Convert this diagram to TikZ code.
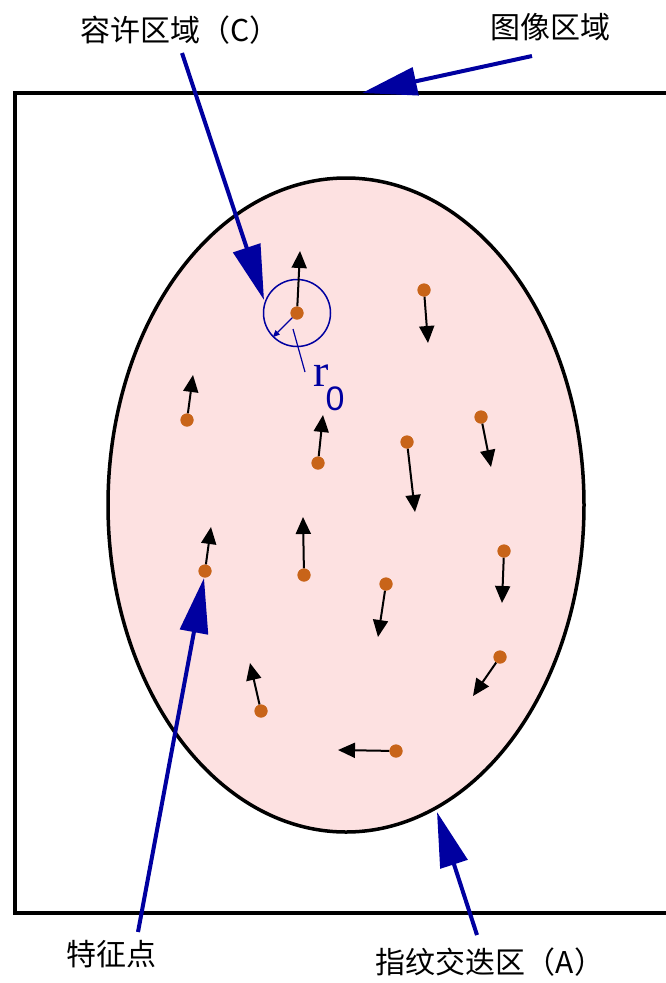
\documentclass[tikz,border=0pt]{standalone}
\usepackage{fontspec}
\setmainfont{Liberation Serif}
\newfontfamily\cjk{Noto Sans CJK SC}
\newfontfamily\arialish{Liberation Sans}
\usetikzlibrary{arrows.meta,shapes.geometric}
\definecolor{navyb}{RGB}{0,0,160}
\definecolor{pinkf}{RGB}{253,225,225}
\definecolor{dotc}{RGB}{200,100,25}
\tikzset{
  lbl/.style={font=\cjk\fontsize{30}{30}\selectfont, inner sep=0pt},
  fp/.style={circle, fill=dotc, minimum size=13pt, inner sep=0pt},
  vec/.style={line width=2pt, -{Triangle[length=17pt,width=15pt]}},
  callout/.style={navyb, line width=4pt, -{Triangle[length=55pt,width=28pt]}},
}
\begin{document}
\begin{tikzpicture}[x=1pt,y=-1pt]
\path[use as bounding box] (0,0) rectangle (666,983);
\clip (0,0) rectangle (666,983);
\fill[white] (0,0) rectangle (666,983);
% image area
\node[draw, line width=3.5pt, minimum width=665pt, minimum height=820pt, inner sep=0pt] (img) at (347.5,503) {};
% overlap area
\node[ellipse, draw, fill=pinkf, line width=3.5pt, minimum width=476pt, minimum height=654pt, inner sep=0pt] (A) at (346,505) {};
% tolerance circle
\node[circle, draw=navyb, line width=1.5pt, minimum size=67pt, inner sep=0pt] (C) at (297,313) {};
% feature points
\node[fp] (p1) at (297,313) {};
\node[fp] (p2) at (424,290) {};
\node[fp] (p3) at (187,420) {};
\node[fp] (p4) at (318,463) {};
\node[fp] (p5) at (407,442) {};
\node[fp] (p6) at (481,417) {};
\node[fp] (p7) at (205,571) {};
\node[fp] (p8) at (304,575) {};
\node[fp] (p9) at (386,584) {};
\node[fp] (p10) at (504,551) {};
\node[fp] (p11) at (500,657) {};
\node[fp] (p12) at (261,711) {};
\node[fp] (p13) at (396,751) {};
% direction tips
\coordinate (t1) at (300,251);
\coordinate (t2) at (428,343);
\coordinate (t3) at (193,375);
\coordinate (t4) at (323,415);
\coordinate (t5) at (415,512);
\coordinate (t6) at (491,467);
\coordinate (t7) at (211,527);
\coordinate (t8) at (303,517);
\coordinate (t9) at (378,637);
\coordinate (t10) at (502,603);
\coordinate (t11) at (473,696);
\coordinate (t12) at (250,663);
\coordinate (t13) at (338,750);
\foreach \i in {1,...,13}{\draw[vec] (p\i) -- (t\i);}
\foreach \i in {1,...,13}{\node[fp] at (p\i) {};}
% radius r0
\draw[navyb, line width=1.2pt, -{Triangle[length=7pt,width=6pt]}] (p1) -- (C.225);
\coordinate (l1) at (293,329);
\coordinate (l2) at (305,372);
\draw[navyb, line width=1.2pt] (l1) -- (l2);
\node[font=\fontsize{46}{46}\selectfont, text=navyb, inner sep=0pt] (r) at (321,376) {r};
\node[font=\arialish\fontsize{34}{34}\selectfont, text=navyb, inner sep=0pt] (rsub) at (335,399) {0};
% labels
\node[lbl] (lc) at (180,30) {容许区域（C）};
\node[lbl] (li) at (550,27) {图像区域};
\node[lbl] (lf) at (111,954) {特征点};
\node[lbl] (la) at (490,962) {指纹交迭区（A）};
% callout arrows
\coordinate (c1) at (182,53);   \coordinate (e1) at (264,300);
\coordinate (c2) at (532,56);   \coordinate (e2) at (362,93);
\coordinate (c3) at (138,932);  \coordinate (e3) at (204,578);
\coordinate (c4) at (477,935);  \coordinate (e4) at (437,812);
\draw[callout] (c1) -- (e1);
\draw[callout] (c2) -- (e2);
\draw[callout] (c3) -- (e3);
\draw[callout] (c4) -- (e4);
\end{tikzpicture}
\end{document}
